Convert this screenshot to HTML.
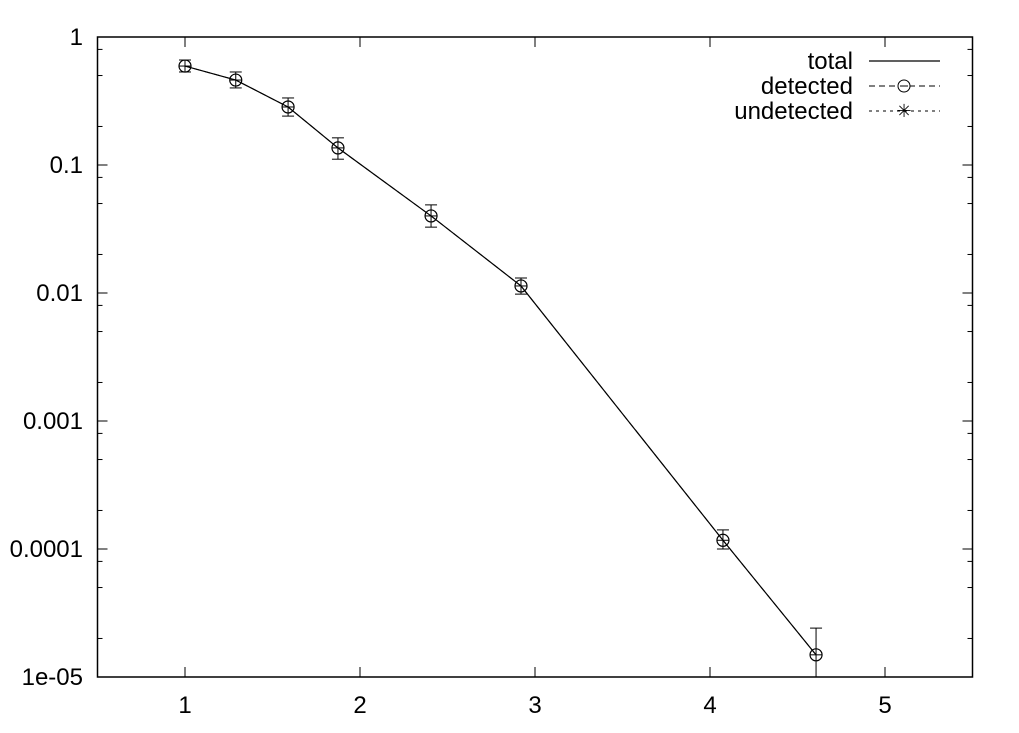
<!DOCTYPE html>
<html><head><meta charset="utf-8"><style>
html,body{margin:0;padding:0;background:#fff;}
svg{display:block;font-family:"Liberation Sans",sans-serif;}
</style></head><body>
<svg id="chart" width="1019" height="733">
<g id="axes"></g>
<g id="series"></g>
<g id="legend">
<text x="853" y="69" text-anchor="end" font-size="24">total</text>
<line x1="869" y1="61" x2="940" y2="61" stroke="#000" stroke-width="1.2"/>
<text x="853" y="94" text-anchor="end" font-size="24">detected</text>
<line x1="869" y1="86" x2="940" y2="86" stroke="#000" stroke-width="1" stroke-dasharray="6,4"/>
<circle cx="904" cy="86" r="6" fill="#fff" stroke="#000"/>
<line x1="900" y1="86" x2="908" y2="86" stroke="#000"/>
<text x="853" y="119" text-anchor="end" font-size="24">undetected</text>
<line x1="869" y1="111" x2="940" y2="111" stroke="#000" stroke-width="1" stroke-dasharray="3,4"/>
<text x="904" y="117" text-anchor="middle" font-size="18">✳</text>
</g>
</svg>
<script>
const xs = [1.0, 1.29, 1.589, 1.874, 2.406, 2.92, 4.074, 4.606];
const ys = [0.593, 0.461, 0.284, 0.136, 0.040, 0.01135, 1.17e-4, 1.49e-5];
const yHi = [0.661, 0.533, 0.334, 0.163, 0.0488, 0.0131, 1.41e-4, 2.41e-5];
const yLo = [0.533, 0.40, 0.241, 0.111, 0.0327, 0.0098, 1.0e-4, 1e-5];
const xTicks = [1,2,3,4,5];
const yTicks = [1,0.1,0.01,0.001,0.0001,1e-5];
const yTickLabels = ["1","0.1","0.01","0.001","0.0001","1e-05"];

const L=97.5,R=972.5,T=37,B=677;
const sx=v=>L+(v-0.5)*175;
const sy=v=>T-Math.log10(v)*128;
const NS="http://www.w3.org/2000/svg";
function mk(parent,tag,attrs){const e=document.createElementNS(NS,tag);for(const k in attrs)e.setAttribute(k,attrs[k]);parent.appendChild(e);return e;}
const ax=document.getElementById('axes');
const frame=mk(ax,'rect',{x:L,y:T,width:R-L,height:B-T,fill:'none',stroke:'#000','stroke-width':1.5});


xTicks.forEach(v=>{
  const x=sx(v);
  mk(ax,'line',{x1:x,y1:B,x2:x,y2:B-10,stroke:'#000'});
  mk(ax,'line',{x1:x,y1:T,x2:x,y2:T+10,stroke:'#000'});
  const t=mk(ax,'text',{x:x,y:B+36,'text-anchor':'middle','font-size':24});
  t.textContent=v;
  
  
});
yTicks.forEach((v,i)=>{
  const y=sy(v);
  mk(ax,'line',{x1:L,y1:y,x2:L+10,y2:y,stroke:'#000'});
  mk(ax,'line',{x1:R,y1:y,x2:R-10,y2:y,stroke:'#000'});
  const t=mk(ax,'text',{x:83,y:y+8,'text-anchor':'end','font-size':24});
  t.textContent=yTickLabels[i];
  
  
  if(i<yTicks.length-1){[0.8,0.5,0.2].forEach(m=>{
    const ym=sy(v*m);
    mk(ax,'line',{x1:L,y1:ym,x2:L+5,y2:ym,stroke:'#000'});
    mk(ax,'line',{x1:R,y1:ym,x2:R-5,y2:ym,stroke:'#000'});
  });}
});
const sg=document.getElementById('series');
const pts=xs.map((x,i)=>sx(x)+','+sy(ys[i])).join(' ');
const tl=mk(sg,'polyline',{points:pts,fill:'none',stroke:'#000','stroke-width':1.2});


const dl=mk(sg,'polyline',{points:pts,fill:'none',stroke:'#000','stroke-width':1,'stroke-dasharray':'6,4'});


xs.forEach((xv,i)=>{
  const x=sx(xv),y=sy(ys[i]),yh=sy(yHi[i]),yl=Math.min(B,sy(yLo[i]));
  const g=mk(sg,'g',{});
  
  
  mk(g,'line',{x1:x,y1:yh,x2:x,y2:yl,stroke:'#000'});
  mk(g,'line',{x1:x-6,y1:yh,x2:x+6,y2:yh,stroke:'#000'});
  if(sy(yLo[i])<B) mk(g,'line',{x1:x-6,y1:yl,x2:x+6,y2:yl,stroke:'#000'});
  mk(g,'circle',{cx:x,cy:y,r:6,fill:'none',stroke:'#000','stroke-width':1.2});
  mk(g,'line',{x1:x-6,y1:y,x2:x+6,y2:y,stroke:'#000'});
});
</script>
</body></html>
